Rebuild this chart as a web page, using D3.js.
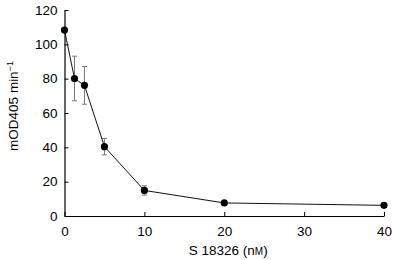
<!DOCTYPE html>
<html>
<head>
<meta charset="utf-8">
<script src="https://cdn.jsdelivr.net/npm/d3@7"></script>
<style>
	body { margin: 0; background: #fff; }
	text { font-family: "Liberation Sans", Arial, sans-serif; }
</style>
</head>
<body>
<svg id="chart" width="395" height="260"></svg>
<script>
// concentration (nM) vs activity
var concentrations = [0, 1.25, 2.5, 5, 10, 20, 40];
var activity = [108.3, 80.1, 76.1, 40.4, 14.9, 7.6, 6.2];
var errors = [0, 13, 11, 4.8, 2.7, 0, 0];
var xTicks = [0, 10, 20, 30, 40];
var yTicks = [0, 20, 40, 60, 80, 100, 120];

function drawChart(){
	var svg = d3.select("#chart"),
		margin = {top: 10, right: 11, bottom: 44, left: 64.5},
		width = 395 - margin.left - margin.right,
		height = 260 - margin.top - margin.bottom,
		g = svg.append("g").attr("transform", "translate(" + margin.left + "," + margin.top + ")");

	var x = d3.scaleLinear().domain([0, 40]).range([0, width]);
	var y = d3.scaleLinear().domain([0, 120]).range([height, 0]);

	var data = concentrations.map(function(c, i){
		return { x: c, y: activity[i], e: errors[i] };
	});

	var xAxis = g.append("g")
		.attr("transform", "translate(0," + height + ")")
		.call(d3.axisBottom(x).tickValues(xTicks).tickSizeInner(-4).tickSizeOuter(0).tickPadding(10));

	var yAxis = g.append("g")
		.call(d3.axisLeft(y).tickValues(yTicks).tickSizeInner(-4).tickSizeOuter(0).tickPadding(7));

	[xAxis, yAxis].forEach(function(a){
		a.select(".domain").attr("stroke", "#000").attr("stroke-width", 1.2);
		a.selectAll(".tick line").attr("stroke", "#000");
		a.selectAll(".tick text").attr("font-size", 13.5).attr("fill", "#000")
			.attr("font-family", "Liberation Sans, Arial, sans-serif");
	});

	// error bars
	var eb = g.selectAll(".err")
		.data(data.filter(function(d){ return d.e > 0; }))
		.enter().append("g").attr("class", "err")
		.attr("stroke", "#777").attr("stroke-width", 1);
	eb.append("line")
		.attr("x1", function(d){ return x(d.x); })
		.attr("x2", function(d){ return x(d.x); })
		.attr("y1", function(d){ return y(d.y + d.e); })
		.attr("y2", function(d){ return y(d.y - d.e); });
	[1, -1].forEach(function(s){
		eb.append("line")
			.attr("x1", function(d){ return x(d.x) - 2.5; })
			.attr("x2", function(d){ return x(d.x) + 2.5; })
			.attr("y1", function(d){ return y(d.y + s * d.e); })
			.attr("y2", function(d){ return y(d.y + s * d.e); });
	});

	var line = d3.line()
		.x(function(d){ return x(d.x); })
		.y(function(d){ return y(d.y); });

	g.append("path")
		.datum(data)
		.attr("fill", "none")
		.attr("stroke", "#111")
		.attr("stroke-width", 1)
		.attr("d", line);

	g.selectAll(".dot")
		.data(data)
		.enter().append("circle")
		.attr("class", "dot")
		.attr("cx", function(d){ return x(d.x); })
		.attr("cy", function(d){ return y(d.y); })
		.attr("r", 3.6)
		.attr("fill", "#000");

	// axis titles
	var xl = svg.append("text")
		.attr("x", margin.left + width / 2 + 4)
		.attr("y", 255)
		.attr("text-anchor", "middle")
		.attr("font-size", 13.5);
	xl.append("tspan").text("S 18326 (n");
	xl.append("tspan").attr("font-size", 10).text("M");
	xl.append("tspan").text(")");

	var yl = svg.append("text")
		.attr("transform", "translate(18," + 106 + ") rotate(-90)")
		.attr("text-anchor", "middle")
		.attr("font-size", 13.5);
	yl.append("tspan").text("mOD405 min");
	yl.append("tspan").attr("font-size", 9).attr("dy", -5).text("\u22121");
}

drawChart();
</script>
</body>
</html>
